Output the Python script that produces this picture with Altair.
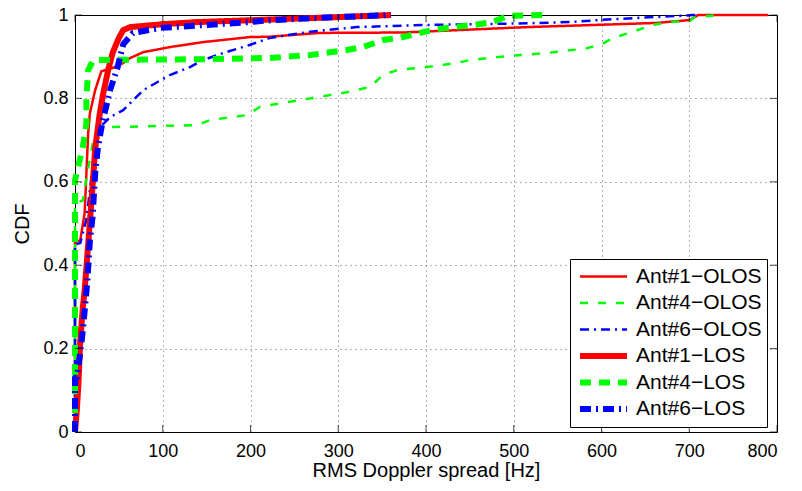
import altair as alt
import pandas as pd

series = ["Ant#1\u2212OLOS", "Ant#4\u2212OLOS", "Ant#6\u2212OLOS",
          "Ant#1\u2212LOS", "Ant#4\u2212LOS", "Ant#6\u2212LOS"]
colors = ["#ff0000", "#00ff00", "#0000ff", "#ff0000", "#00ff00", "#0000ff"]
widths = [2.5, 2.5, 2.5, 6, 6, 6]
dashes = [[1, 0], [8, 10], [9, 5, 2, 5], [1, 0], [11, 8], [11, 5, 2, 5]]

a1_olos_x = [0, 0, 6, 11, 15, 17, 23, 30, 43, 55, 63, 78, 108, 146, 199, 222, 279, 374, 450, 515, 590, 663, 701, 710, 790]
a1_olos_y = [0, 0.455, 0.46, 0.525, 0.717, 0.765, 0.82, 0.865, 0.873, 0.885, 0.897, 0.911, 0.923, 0.935, 0.947, 0.948, 0.957, 0.958, 0.965, 0.971, 0.976, 0.981, 0.988, 1.0, 1.0]

a4_olos_x = [0, 0, 9, 13, 21, 32, 80, 139, 154, 196, 211, 222, 268, 310, 336, 351, 367, 390, 412, 435, 450, 496, 538, 583, 602, 613, 636, 658, 678, 701, 706, 737]
a4_olos_y = [0, 0.55, 0.555, 0.61, 0.70, 0.731, 0.733, 0.736, 0.748, 0.76, 0.78, 0.784, 0.80, 0.815, 0.827, 0.856, 0.868, 0.873, 0.878, 0.885, 0.892, 0.902, 0.909, 0.92, 0.932, 0.945, 0.96, 0.976, 0.983, 0.986, 0.995, 1.0]

a6_olos_x = [0, 0, 6, 13, 25, 40, 55, 78, 108, 131, 146, 169, 199, 222, 268, 321, 397, 515, 564, 598, 640, 690, 704, 712]
a6_olos_y = [0, 0.45, 0.453, 0.51, 0.724, 0.755, 0.772, 0.82, 0.856, 0.875, 0.892, 0.909, 0.928, 0.945, 0.96, 0.971, 0.976, 0.98, 0.983, 0.988, 0.993, 0.998, 1.0, 1.0]

a1_los_x = [0, 2, 4, 6, 9, 11, 15, 19, 23, 28, 32, 38, 43, 50, 55, 63, 100, 139, 234, 300, 360]
a1_los_y = [0, 0.05, 0.12, 0.22, 0.3, 0.34, 0.45, 0.56, 0.68, 0.76, 0.81, 0.87, 0.91, 0.945, 0.964, 0.971, 0.978, 0.983, 0.99, 0.995, 1.0]

a4_los_x = [0, 0, 9, 13, 13, 15, 21, 80, 150, 222, 268, 310, 328, 351, 370, 393, 412, 431, 454, 475, 494, 533]
a4_los_y = [0, 0.604, 0.684, 0.74, 0.80, 0.868, 0.892, 0.893, 0.894, 0.897, 0.904, 0.916, 0.923, 0.94, 0.945, 0.957, 0.966, 0.971, 0.976, 0.983, 0.998, 1.0]

a6_los_x = [0, 0, 2, 6, 9, 14, 17, 20, 23, 26, 31, 40, 48, 55, 66, 97, 148, 199, 226, 300, 360]
a6_los_y = [0, 0.13, 0.13, 0.19, 0.245, 0.36, 0.46, 0.515, 0.62, 0.68, 0.74, 0.82, 0.87, 0.93, 0.957, 0.969, 0.976, 0.983, 0.988, 0.995, 1.0]

x_ticks = [0, 100, 200, 300, 400, 500, 600, 700, 800]
y_ticks = [0, 0.2, 0.4, 0.6, 0.8, 1.0]

xs = [a1_olos_x, a4_olos_x, a6_olos_x, a1_los_x, a4_los_x, a6_los_x]
ys = [a1_olos_y, a4_olos_y, a6_olos_y, a1_los_y, a4_los_y, a6_los_y]

rows = []
for s, xv, yv in zip(series, xs, ys):
    for i, (a, b) in enumerate(zip(xv, yv)):
        rows.append({"series": s, "hz": a, "cdf": b, "i": i})
df = pd.DataFrame(rows)

W, H = 702, 417
FONT = "Liberation Sans"

xscale = alt.Scale(domain=[0, 800], nice=False)
yscale = alt.Scale(domain=[0, 1], nice=False)

lines = alt.Chart(df).mark_line(strokeCap="butt", strokeJoin="round").encode(
    x=alt.X("hz:Q", scale=xscale,
            axis=alt.Axis(values=x_ticks, title="RMS Doppler spread [Hz]",
                          grid=True, ticks=False, domain=False,
                          labelPadding=10, titleY=44, titleBaseline="alphabetic")),
    y=alt.Y("cdf:Q", scale=yscale,
            axis=alt.Axis(values=y_ticks, format="~g", title="CDF",
                          grid=True, ticks=False, domain=False,
                          labelPadding=7, titleX=-53, titleY=H / 2,
                          titleAngle=-90, titleAlign="center", titleBaseline="middle")),
    color=alt.Color("series:O", scale=alt.Scale(domain=series, range=colors),
                    sort=series, title=None),
    strokeDash=alt.StrokeDash("series:O", scale=alt.Scale(domain=series, range=dashes),
                              sort=series, title=None),
    strokeWidth=alt.StrokeWidth("series:O", scale=alt.Scale(type="ordinal", domain=series, range=widths),
                                sort=series, title=None),
    order="i:Q",
)

xt = pd.DataFrame({"v": x_ticks})
yt = pd.DataFrame({"v": y_ticks})

tick_bottom = alt.Chart(xt).mark_tick(color="black", size=7, thickness=1, yOffset=-3.5).encode(
    x=alt.X("v:Q", scale=xscale), y=alt.value(H))
tick_top = alt.Chart(xt).mark_tick(color="black", size=7, thickness=1, yOffset=3.5).encode(
    x=alt.X("v:Q", scale=xscale), y=alt.value(0))
tick_left = alt.Chart(yt).mark_tick(color="black", size=7, thickness=1, xOffset=3.5).encode(
    y=alt.Y("v:Q", scale=yscale), x=alt.value(0))
tick_right = alt.Chart(yt).mark_tick(color="black", size=7, thickness=1, xOffset=-3.5).encode(
    y=alt.Y("v:Q", scale=yscale), x=alt.value(W))

chart = alt.layer(lines, tick_bottom, tick_top, tick_left, tick_right).properties(
    width=W, height=H,
    autosize=alt.AutoSizeParams(type="none"),
    padding={"left": 67, "top": 7, "right": 17, "bottom": 50},
).configure_view(
    stroke="black", strokeWidth=1
).configure_axis(
    labelFont=FONT, titleFont=FONT, labelFontSize=18, titleFontSize=20,
    labelColor="black", titleColor="black", titleFontWeight="normal",
    gridColor="black", gridOpacity=0.6, gridDash=[1, 4], gridWidth=1,
).configure_legend(
    orient="none", legendX=495, legendY=244,
    strokeColor="black", fillColor="white", padding=5, cornerRadius=0,
    labelFont=FONT, labelFontSize=21, labelColor="black", labelOffset=6,
    symbolType="stroke", symbolSize=2209, symbolOffset=2,
    rowPadding=1.5, clipHeight=25, labelLimit=400,
)

chart.save("out.html", embed_options={"renderer": "svg", "actions": False})
